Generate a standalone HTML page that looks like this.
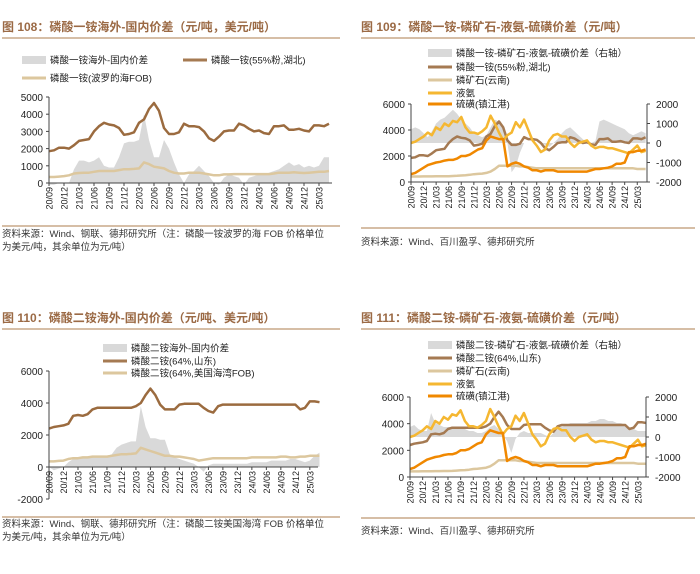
<!DOCTYPE html>
<html><head><meta charset="utf-8">
<style>
body{margin:0;background:#fff;}
svg{display:block;font-family:"Liberation Sans","Noto Sans CJK SC",sans-serif;}
.t{font-size:12px;font-weight:bold;fill:#9b6a45;}
.lg{font-size:9.5px;fill:#222;}
.src{font-size:9.5px;fill:#333;}
.ax{font-size:10px;fill:#222;}
.xl{font-size:9px;fill:#222;}
</style></head>
<body>
<svg id="s" width="700" height="574" viewBox="0 0 700 574"></svg>
<script>
const months=['20/09','20/12','21/03','21/06','21/09','21/12','22/03','22/06','22/09','22/12','23/03','23/06','23/09','23/12','24/03','24/06','24/09','24/12','25/03'];
// Chart 108
const map55=[1850,1900,2050,2050,2000,2200,2450,2500,2550,3000,3300,3500,3400,3350,3200,2800,2850,2950,3500,3700,4300,4650,4200,3200,2850,2850,2950,3450,3300,3300,3250,3000,2600,2450,2700,3000,3050,3050,3450,3350,3150,3000,3050,2900,2850,3300,3300,3350,3100,3100,3150,3050,3000,3350,3350,3300,3450];
const mapFob=[350,350,370,400,450,550,580,600,600,650,700,700,700,700,750,800,800,820,850,1200,1100,950,900,850,700,600,550,550,600,600,600,550,500,450,450,500,500,520,520,520,520,520,520,520,520,550,600,600,600,620,600,580,600,620,650,650,700];
const mapSpread=[-100,-100,0,0,0,800,1300,1300,1200,1300,1500,1000,900,900,1500,2300,2400,2400,2500,4000,2500,1500,1500,2500,2000,1200,500,0,500,700,1000,700,400,0,-100,300,500,400,300,-100,300,400,500,500,600,700,800,1000,1200,1000,1100,900,1000,900,1000,1500,1500];
// Chart 109
const map109Spread=[700,800,700,500,300,600,1000,1200,1300,1500,1700,1500,1200,1000,800,500,400,300,400,800,1200,1100,800,0,-1500,-1200,-500,0,0,0,0,0,-100,-200,0,200,500,700,800,600,400,200,0,0,100,1100,1200,1100,1000,900,800,700,500,400,500,600,500];
const rock=[420,420,420,430,430,430,440,440,450,450,460,480,500,520,550,600,620,650,700,800,1000,1250,1250,1250,1250,1250,1200,1200,1150,1100,1050,1050,1050,1050,1050,1050,1050,1050,1050,1050,1050,1050,1050,1050,1050,1050,1050,1050,1050,1050,1050,1050,1050,1050,1000,1000,1000];
const ammonia=[3000,3100,3300,3500,3800,3600,4200,4000,4500,4300,4700,4600,5000,4200,3800,3800,3700,3900,4200,5100,4500,3800,3200,3600,3800,4600,4200,4800,4000,3200,2800,2300,2500,3200,3600,3700,3500,3500,3000,2700,3000,3100,3200,2800,2600,2700,2700,2600,2600,2500,2400,2300,2200,2500,2800,2300,2400];
const sulfur=[600,700,900,1100,1300,1400,1500,1550,1650,1700,1700,1800,2000,2000,2100,2300,2500,2600,3200,3500,3400,3300,3300,1200,1400,1500,1400,1200,1100,900,900,800,900,900,900,800,800,800,800,800,800,800,800,900,1000,1000,1050,1100,1200,1400,1400,1500,2300,2300,2400,2400,2500];
// Chart 110
const dap64=[2400,2500,2550,2600,2700,3200,3250,3200,3300,3600,3700,3700,3700,3700,3700,3700,3700,3700,3800,4000,4500,4900,4500,3900,3600,3600,3600,3900,3950,3950,3950,3950,3700,3500,3400,3800,3900,3900,3900,3900,3900,3900,3900,3900,3900,3900,3900,3900,3900,3900,3900,3900,3600,3700,4100,4100,4050];
const dapFob=[350,350,380,400,500,550,550,600,600,650,650,650,650,700,750,800,800,820,850,1200,1100,1000,900,800,700,700,650,650,600,550,500,400,450,500,550,550,550,550,550,550,550,550,600,600,600,600,600,600,650,650,600,600,650,650,700,700,700];
const dapSpread=[0,-200,-100,0,300,500,600,600,550,600,700,700,700,800,1200,1400,1500,1600,1600,3800,2500,1800,1800,1700,1700,800,600,500,400,300,200,0,-300,100,200,200,200,200,200,200,200,200,300,300,300,300,400,400,400,400,500,500,400,300,400,700,900];
// Chart 111
const dap111Spread=[500,600,400,300,300,1200,700,600,500,500,500,400,400,400,300,300,200,200,300,500,600,400,100,-200,-800,-100,200,300,200,200,200,200,100,0,200,500,500,600,700,700,700,700,700,800,800,900,900,800,800,700,700,600,500,400,300,300,300];

const NS='http://www.w3.org/2000/svg';
const svg=document.getElementById('s');
function el(tag,attrs,parent){const e=document.createElementNS(NS,tag);for(const k in attrs)e.setAttribute(k,attrs[k]);(parent||svg).appendChild(e);return e;}
function txt(x,y,s,cls,anchor){const e=el('text',{x:x,y:y,class:cls,'text-anchor':anchor||'start'});e.textContent=s;return e;}

const GRAY='#d9d9d9',BROWN='#a57a52',TAN='#dcc79e',YEL='#f5b731',ORG='#f08800',RULE='#c9a888';

function header(x,y,title,ruleY,x2){
  let t=txt(x,y,title,'t');
  
  
  let r=el('line',{x1:x,x2:x2,y1:ruleY,y2:ruleY,stroke:RULE,'stroke-width':1.5});
  
  
}
function footer(x,y,lines,ruleY,x2){
  let r=el('line',{x1:x,x2:x2,y1:ruleY,y2:ruleY,stroke:RULE,'stroke-width':1.5});
  
  
  lines.forEach((s,i)=>{let t=txt(x,y+i*13,s,'src');
    
    });
}
function legend(x,y,kind,color,label){
  let s;
  if(kind==='area') s=el('rect',{x:x,y:y-4,width:24,height:8,fill:color});
  else s=el('line',{x1:x,x2:x+24,y1:y,y2:y,stroke:color,'stroke-width':3});
  
  
  let t=txt(x+28,y+3.5,label,'lg');
  
  
}
function area(data,xf,yf,base,color){
  let d='M'+xf(0)+','+base;
  data.forEach((v,i)=>{d+=' L'+xf(i).toFixed(1)+','+yf(v).toFixed(1);});
  d+=' L'+xf(data.length-1).toFixed(1)+','+base+' Z';
  let p=el('path',{d:d,fill:color});
  
  
}
function line(data,xf,yf,color,w,name){
  let d='';data.forEach((v,i)=>{d+=(i?' L':'M')+xf(i).toFixed(1)+','+yf(v).toFixed(1);});
  let p=el('path',{d:d,fill:'none',stroke:color,'stroke-width':w,'stroke-linejoin':'round'});
  
  
}
function yAxis(x,top,bot,ticks,yf,side){
  let a=el('line',{x1:x,x2:x,y1:top,y2:bot,stroke:'#444','stroke-width':1});
  
  
  ticks.forEach(v=>{let y=yf(v);
    let tk=el('line',{x1:x,x2:side==='r'?x+3:x-3,y1:y,y2:y,stroke:'#444'});
    
    
    let t=txt(side==='r'?x+9:x-6,y+4,String(v),'ax',side==='r'?'start':'end');
    
    });
}
function xAxis(x0,x1,y,xf){
  let a=el('line',{x1:x0,x2:x1,y1:y,y2:y,stroke:'#444'});
  
  
  months.forEach((m,k)=>{let x=xf(k*3);
    let tk=el('line',{x1:x,x2:x,y1:y,y2:y+3,stroke:'#444'});
    
    
    let t=el('text',{x:0,y:0,class:'xl','text-anchor':'end',transform:'translate('+(x+3.5)+','+(y+4)+') rotate(-90)'});
    t.textContent=m;
    
    });
}

// ===== 108 =====
header(2,31,'图 108：磷酸一铵海外-国内价差（元/吨，美元/吨）',38,340);
legend(22,60,'area',GRAY,'磷酸一铵海外-国内价差');
legend(183,60,'line',BROWN,'磷酸一铵(55%粉,湖北)');
legend(22,78,'line',TAN,'磷酸一铵(波罗的海FOB)');
{const xf=i=>49+i*5, yf=v=>183-v/5000*86;
 area(mapSpread,xf,yf,183,GRAY);
 line(mapFob,xf,yf,TAN,2.5,'fob-line');
 line(map55,xf,yf,'#9b6b3f',2.5,'map-price-line');
 yAxis(49,97,183,[0,1000,2000,3000,4000,5000],yf,'l');
 xAxis(49,332,183,xf);}
footer(2,237,['资料来源：Wind、钢联、德邦研究所（注：磷酸一铵波罗的海 FOB 价格单位','为美元/吨，其余单位为元/吨）'],226,340);

// ===== 109 =====
header(361,31,'图 109：磷酸一铵-磷矿石-液氨-硫磺价差（元/吨）',38,695);
legend(428,53,'area',GRAY,'磷酸一铵-磷矿石-液氨-硫磺价差（右轴）');
legend(428,67,'line',BROWN,'磷酸一铵(55%粉,湖北)');
legend(428,80,'line',TAN,'磷矿石(云南)');
legend(428,93,'line',YEL,'液氨');
legend(428,104,'line',ORG,'硫磺(镇江港)');
{const xf=i=>411+i*4.19, yf=v=>182-v/6000*78, yr=v=>143-v/2000*39;
 area(map109Spread,xf,yr,143,GRAY);
 line(rock,xf,yf,TAN,2.5,'rock-line');
 line(map55,xf,yf,BROWN,2.5,'map-price-line');
 line(ammonia,xf,yf,YEL,2.5,'ammonia-line');
 line(sulfur,xf,yf,ORG,2.5,'sulfur-line');
 yAxis(411,104,182,[0,2000,4000,6000],yf,'l');
 yAxis(647,104,182,[-2000,-1000,0,1000,2000],yr,'r');
 xAxis(411,647,182,xf);}
footer(361,245,['资料来源：Wind、百川盈孚、德邦研究所'],228,695);

// ===== 110 =====
header(2,322,'图 110：磷酸二铵海外-国内价差（元/吨、美元/吨）',329,340);
legend(103,348,'area',GRAY,'磷酸二铵海外-国内价差');
legend(103,361,'line',BROWN,'磷酸二铵(64%,山东)');
legend(103,373,'line',TAN,'磷酸二铵(64%,美国海湾FOB)');
{const xf=i=>49+i*4.83, yf=v=>467-v/2000*32;
 area(dapSpread,xf,yf,467,GRAY);
 line(dapFob,xf,yf,TAN,2.5,'dap-fob-line');
 line(dap64,xf,yf,'#9b6b3f',2.5,'dap-price-line');
 yAxis(49,371,499,[-2000,0,2000,4000,6000],yf,'l');
 xAxis(49,318,467,xf);}
footer(2,527,['资料来源：Wind、钢联、德邦研究所（注：磷酸二铵美国海湾 FOB 价格单位','为美元/吨，其余单位为元/吨）'],517,340);

// ===== 111 =====
header(361,322,'图 111：磷酸二铵-磷矿石-液氨-硫磺价差（元/吨）',329,695);
legend(428,345,'area',GRAY,'磷酸二铵-磷矿石-液氨-硫磺价差（右轴）');
legend(428,358,'line',BROWN,'磷酸二铵(64%,山东)');
legend(428,371,'line',TAN,'磷矿石(云南)');
legend(428,384,'line',YEL,'液氨');
legend(428,396,'line',ORG,'硫磺(镇江港)');
{const xf=i=>410+i*4.22, yf=v=>477-v/6000*80, yr=v=>437-v/2000*40;
 area(dap111Spread,xf,yr,437,GRAY);
 line(rock,xf,yf,TAN,2.5,'rock-line');
 line(dap64,xf,yf,BROWN,2.5,'dap-price-line');
 line(ammonia,xf,yf,YEL,2.5,'ammonia-line');
 line(sulfur,xf,yf,ORG,2.5,'sulfur-line');
 yAxis(410,397,477,[0,2000,4000,6000],yf,'l');
 yAxis(646,397,477,[-2000,-1000,0,1000,2000],yr,'r');
 xAxis(410,646,477,xf);}
footer(361,534,['资料来源：Wind、百川盈孚、德邦研究所'],518,695);
</script>
</body></html>
